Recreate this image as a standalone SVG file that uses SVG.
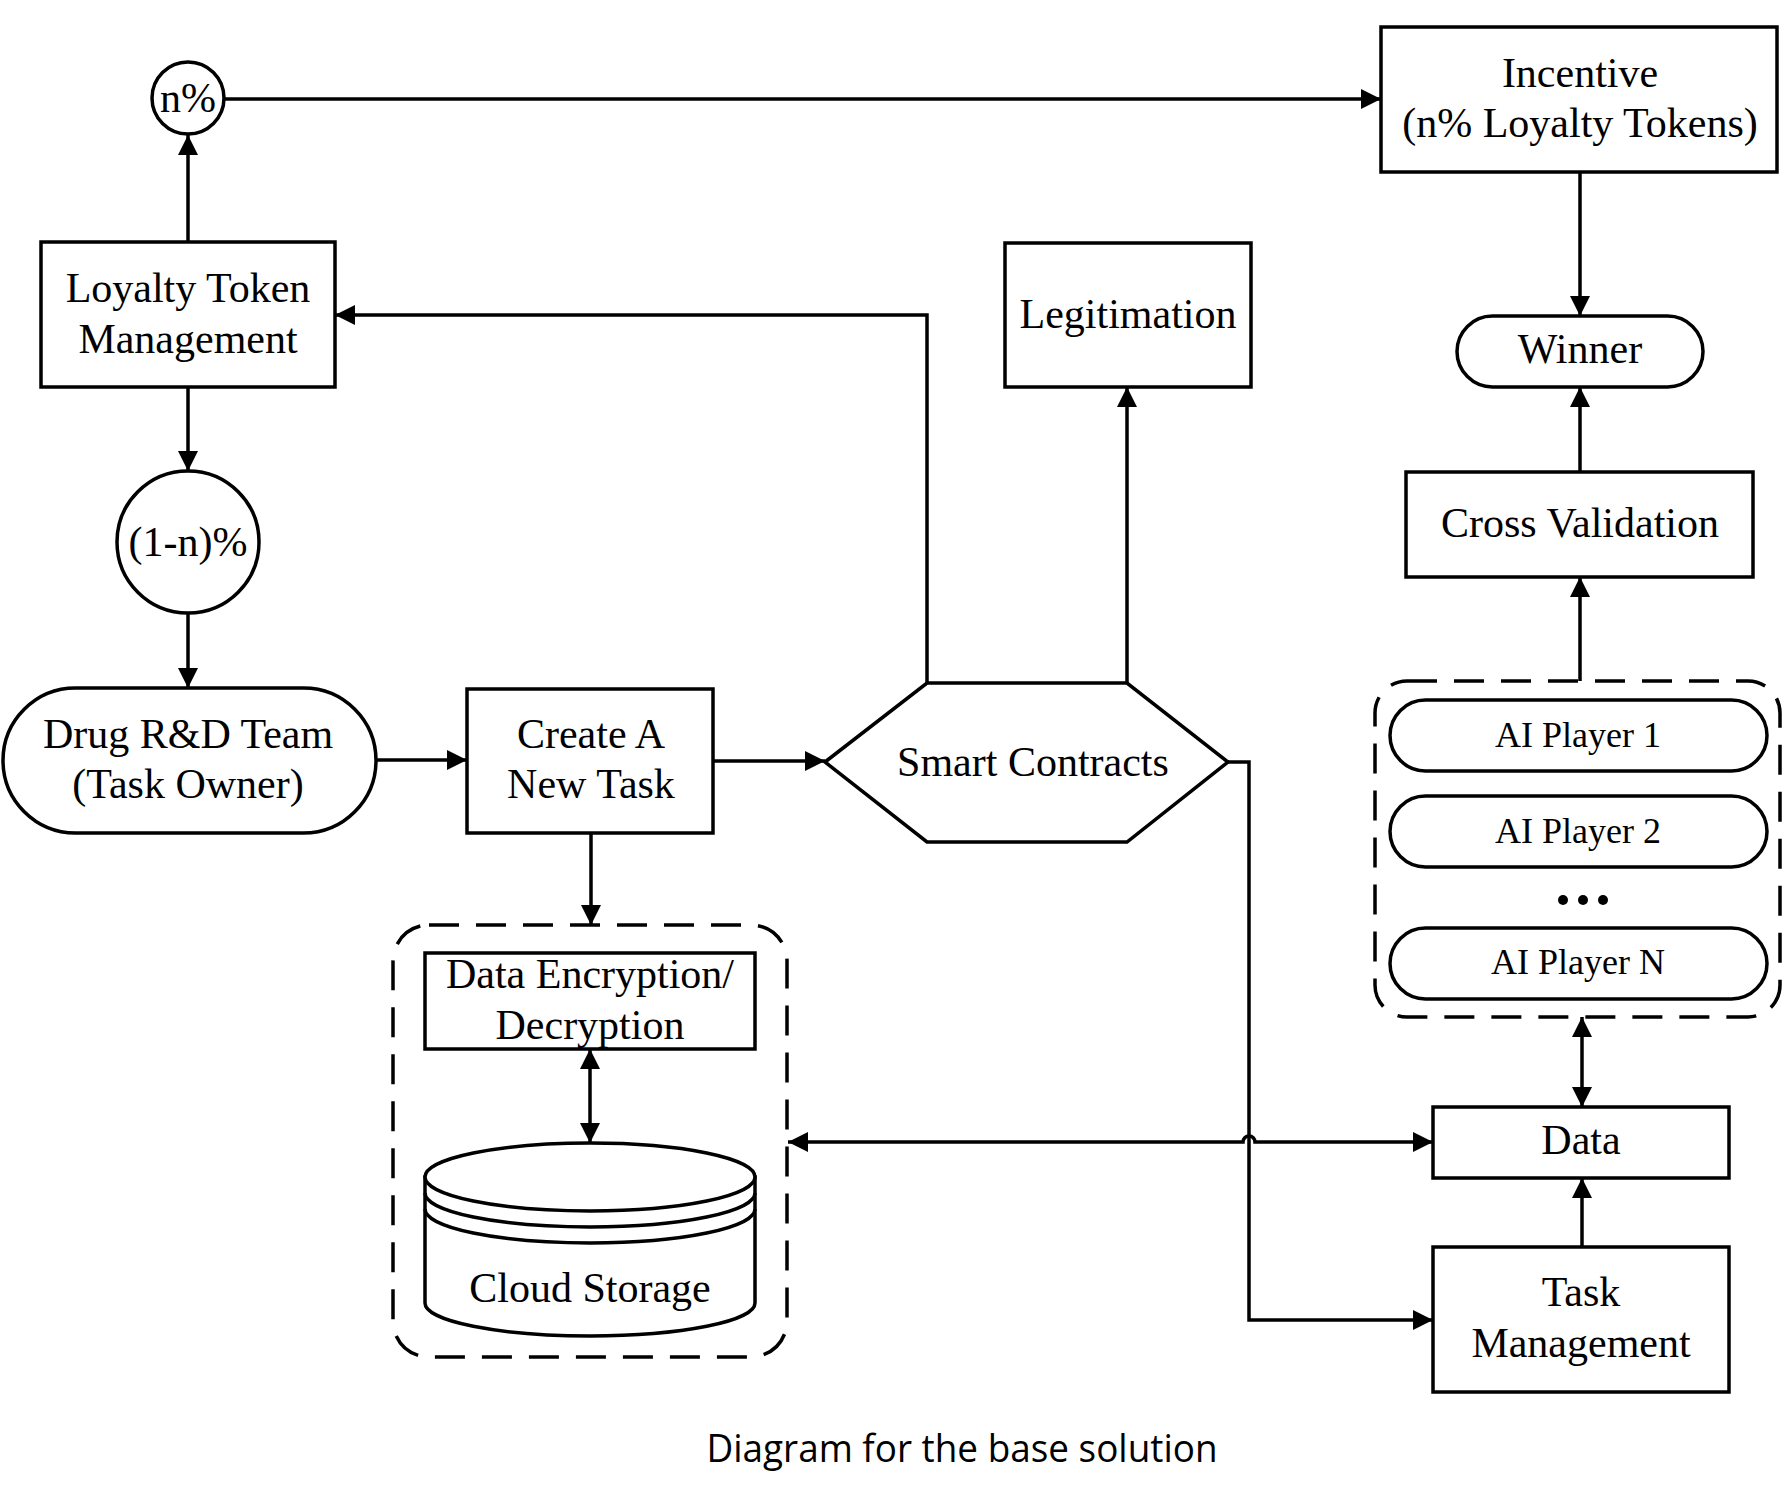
<svg xmlns="http://www.w3.org/2000/svg" width="1788" height="1496" viewBox="0 0 1788 1496">
<style>
.n{fill:#fff;stroke:#000;stroke-width:3.5}
.d{fill:none;stroke:#000;stroke-width:3.5;stroke-dasharray:30 17}
.t{font-family:"Liberation Serif","Times New Roman",serif;font-size:42px;fill:#000;text-anchor:middle}
.s{font-size:36px}
.c{fill:none;stroke:#000;stroke-width:3.5}
.cap{font-family:"Open Sans","Noto Sans",sans-serif;font-size:39px;fill:#000;text-anchor:middle}
</style>
<defs>
<marker id="a" markerUnits="userSpaceOnUse" markerWidth="20" markerHeight="20" refX="20" refY="10" orient="auto-start-reverse">
<path d="M0,0 L20,10 L0,20 z" fill="#000"/>
</marker>
</defs>
<rect width="1788" height="1496" fill="#fff"/>

<g id="connectors">
<line class="c" x1="188" y1="242" x2="188" y2="135" marker-end="url(#a)"/>
<line class="c" x1="224" y1="99" x2="1381" y2="99" marker-end="url(#a)"/>
<line class="c" x1="188" y1="387" x2="188" y2="471" marker-end="url(#a)"/>
<line class="c" x1="188" y1="613" x2="188" y2="688" marker-end="url(#a)"/>
<line class="c" x1="376" y1="760" x2="467" y2="760" marker-end="url(#a)"/>
<line class="c" x1="713" y1="761" x2="825" y2="761" marker-end="url(#a)"/>
<line class="c" x1="591" y1="833" x2="591" y2="925" marker-end="url(#a)"/>
<polyline class="c" points="927,683 927,315 335,315" marker-end="url(#a)"/>
<line class="c" x1="1127" y1="683" x2="1127" y2="387" marker-end="url(#a)"/>
<polyline class="c" points="1228,762 1249,762 1249,1320 1433,1320" marker-end="url(#a)"/>
<path class="c" d="M788,1142 L1243,1142 A6,6 0 0 1 1255,1142 L1433,1142" marker-start="url(#a)" marker-end="url(#a)"/>
<line class="c" x1="590" y1="1049" x2="590" y2="1143" marker-start="url(#a)" marker-end="url(#a)"/>
<line class="c" x1="1580" y1="172" x2="1580" y2="316" marker-end="url(#a)"/>
<line class="c" x1="1580" y1="472" x2="1580" y2="387" marker-end="url(#a)"/>
<line class="c" x1="1580" y1="681" x2="1580" y2="577" marker-end="url(#a)"/>
<line class="c" x1="1582" y1="1017" x2="1582" y2="1107" marker-start="url(#a)" marker-end="url(#a)"/>
<line class="c" x1="1582" y1="1247" x2="1582" y2="1178" marker-end="url(#a)"/>
</g>

<g id="n-percent">
<circle class="n" cx="188" cy="98" r="36"/>
<text class="t" x="188" y="112">n%</text>
</g>

<g id="loyalty-token-management">
<rect class="n" x="41" y="242" width="294" height="145"/>
<text class="t" x="188" y="302">Loyalty Token</text>
<text class="t" x="188" y="353">Management</text>
</g>

<g id="one-minus-n-percent">
<circle class="n" cx="188" cy="542" r="71"/>
<text class="t" x="188" y="556">(1-n)%</text>
</g>

<g id="drug-team">
<rect class="n" x="3" y="688" width="373" height="145" rx="72.5"/>
<text class="t" x="188" y="748">Drug R&amp;D Team</text>
<text class="t" x="188" y="798">(Task Owner)</text>
</g>

<g id="create-task">
<rect class="n" x="467" y="689" width="246" height="144"/>
<text class="t" x="591" y="748">Create A</text>
<text class="t" x="591" y="798">New Task</text>
</g>

<g id="smart-contracts">
<polygon class="n" points="825,762 927,683 1127,683 1228,762 1127,842 927,842"/>
<text class="t" x="1033" y="776">Smart Contracts</text>
</g>

<g id="legitimation">
<rect class="n" x="1005" y="243" width="246" height="144"/>
<text class="t" x="1128" y="328">Legitimation</text>
</g>

<g id="incentive">
<rect class="n" x="1381" y="27" width="396" height="145"/>
<text class="t" x="1580" y="87">Incentive</text>
<text class="t" x="1580" y="137">(n% Loyalty Tokens)</text>
</g>

<g id="winner">
<rect class="n" x="1457" y="316" width="246" height="71" rx="35.5"/>
<text class="t" x="1580" y="363">Winner</text>
</g>

<g id="cross-validation">
<rect class="n" x="1406" y="472" width="347" height="105"/>
<text class="t" x="1580" y="537">Cross Validation</text>
</g>

<g id="ai-players">
<rect class="d" x="1375" y="681" width="405" height="336" rx="32"/>
<rect class="n" x="1390" y="700" width="377" height="71" rx="35.5"/>
<text class="t s" x="1578" y="747">AI Player 1</text>
<rect class="n" x="1390" y="796" width="377" height="71" rx="35.5"/>
<text class="t s" x="1578" y="843">AI Player 2</text>
<circle cx="1563" cy="900" r="5"/>
<circle cx="1583" cy="900" r="5"/>
<circle cx="1603" cy="900" r="5"/>
<rect class="n" x="1390" y="928" width="377" height="71" rx="35.5"/>
<text class="t s" x="1578" y="974">AI Player N</text>
</g>

<g id="storage">
<rect class="d" x="393" y="925" width="394" height="432" rx="36"/>
<rect class="n" x="425" y="953" width="330" height="96"/>
<text class="t" x="590" y="988">Data Encryption/</text>
<text class="t" x="590" y="1039">Decryption</text>
<path class="n" d="M425,1177 L425,1303 A165,33 0 0 0 755,1303 L755,1177 Z"/>
<ellipse class="n" cx="590" cy="1177" rx="165" ry="34"/>
<path class="c" d="M425,1193 A165,34 0 0 0 755,1193"/>
<path class="c" d="M425,1209 A165,34 0 0 0 755,1209"/>
<text class="t" x="590" y="1302">Cloud Storage</text>
</g>

<g id="data">
<rect class="n" x="1433" y="1107" width="296" height="71"/>
<text class="t" x="1581" y="1154">Data</text>
</g>

<g id="task-management">
<rect class="n" x="1433" y="1247" width="296" height="145"/>
<text class="t" x="1581" y="1306">Task</text>
<text class="t" x="1581" y="1357">Management</text>
</g>

<text class="cap" x="962" y="1462" textLength="511" lengthAdjust="spacingAndGlyphs">Diagram for the base solution</text>
</svg>
